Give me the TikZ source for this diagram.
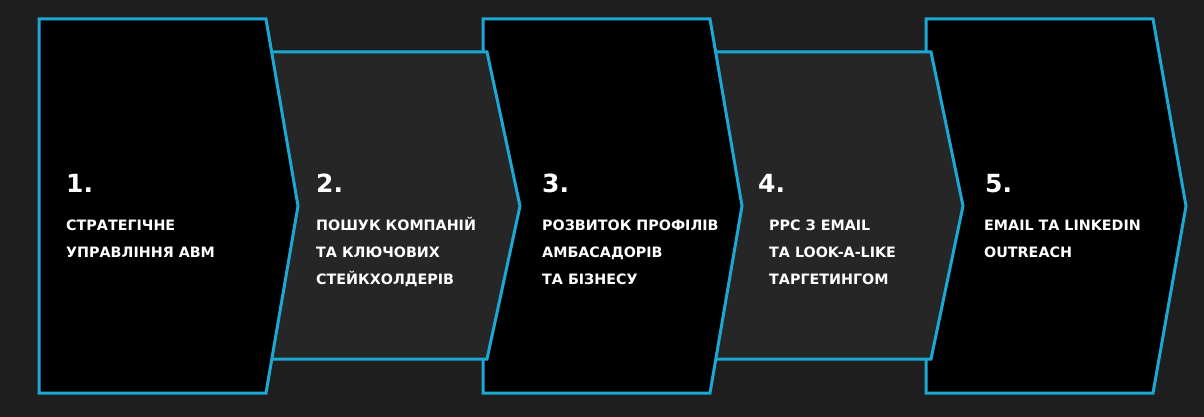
\documentclass[tikz,border=0pt]{standalone}
\usepackage{fontspec}
\setmainfont{DejaVu Sans}
\definecolor{bgc}{HTML}{1E1E1E}
\definecolor{grayfill}{HTML}{262626}
\definecolor{cyanline}{HTML}{1BA8D5}
\begin{document}
\begin{tikzpicture}[x=1pt,y=-1pt,
  chev/.style={draw=cyanline,line width=3pt,line join=miter},
  blackchev/.style={chev,fill=black},
  graychev/.style={chev,fill=grayfill},
  num/.style={anchor=base west,inner sep=0pt,text=white,font=\fontsize{25}{25}\selectfont\bfseries},
  lbl/.style={anchor=base west,inner sep=0pt,text=white,font=\fontsize{14.3}{14.3}\selectfont\bfseries}]
\fill[bgc] (0,0) rectangle (1204,417);
\useasboundingbox (0,0) rectangle (1204,417);
% shapes, back to front
\draw[blackchev] (926,19) -- (1153,19) -- (1186,206) -- (1153,393) -- (926,393) -- cycle;
\draw[graychev] (700,52) -- (931,52) -- (963,206) -- (931,359) -- (700,359) -- cycle;
\draw[blackchev] (483,19) -- (710,19) -- (742,206) -- (710,393) -- (483,393) -- cycle;
\draw[graychev] (250,52) -- (487,52) -- (520,206) -- (487,359) -- (250,359) -- cycle;
\draw[blackchev] (39,19) -- (266,19) -- (298,206) -- (266,393) -- (39,393) -- cycle;
% texts
\node[num] (n1) at (66,192) {1.};
\node[lbl] (t1a) at (66,230) {СТРАТЕГІЧНЕ};
\node[lbl] (t1b) at (66,257) {УПРАВЛІННЯ ABM};
\node[num] (n2) at (316,192) {2.};
\node[lbl] (t2a) at (316,230) {ПОШУК КОМПАНІЙ};
\node[lbl] (t2b) at (316,257) {ТА КЛЮЧОВИХ};
\node[lbl] (t2c) at (316,284) {СТЕЙКХОЛДЕРІВ};
\node[num] (n3) at (542,192) {3.};
\node[lbl] (t3a) at (542,230) {РОЗВИТОК ПРОФІЛІВ};
\node[lbl] (t3b) at (542,257) {АМБАСАДОРІВ};
\node[lbl] (t3c) at (542,284) {ТА БІЗНЕСУ};
\node[num] (n4) at (758,192) {4.};
\node[lbl] (t4a) at (769,230) {PPC З EMAIL};
\node[lbl] (t4b) at (769,257) {ТА LOOK-A-LIKE};
\node[lbl] (t4c) at (769,284) {ТАРГЕТИНГОМ};
\node[num] (n5) at (985,192) {5.};
\node[lbl] (t5a) at (984,230) {EMAIL ТА LINKEDIN};
\node[lbl] (t5b) at (984,257) {OUTREACH};
\end{tikzpicture}
\end{document}
